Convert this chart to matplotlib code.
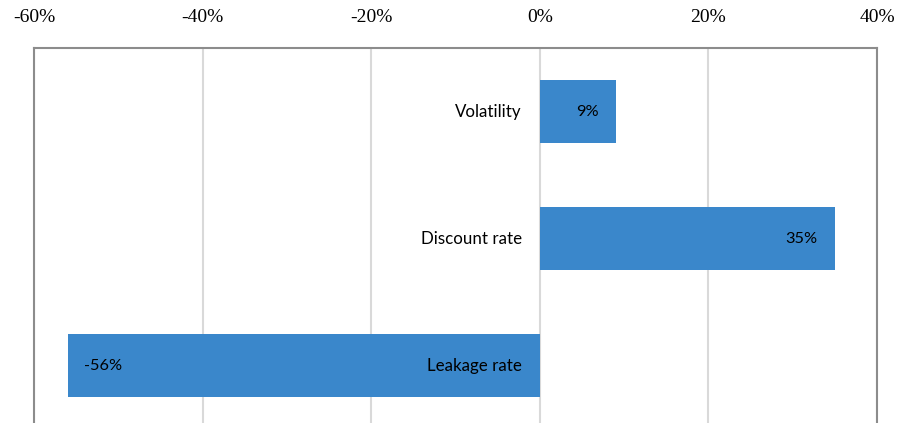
import matplotlib.pyplot as plt

categories = ['Volatility', 'Discount rate', 'Leakage rate']
values = [0.09, 0.35, -0.56]
bar_labels = ['9%', '35%', '-56%']
xticks = [-0.6, -0.4, -0.2, 0.0, 0.2, 0.4]
xtick_labels = ['-60%', '-40%', '-20%', '0%', '20%', '40%']

bar_color = '#3A87CB'

plt.rcParams['font.family'] = ['Lato', 'DejaVu Sans']

fig = plt.figure(figsize=(8.97, 4.23), dpi=100)
ax = fig.add_axes([34/897, -6/423, 843/897, 381/423])

ypos = list(range(len(categories)))
ax.barh(ypos, values, height=0.5, color=bar_color, zorder=2)
ax.set_ylim(len(categories) - 0.5, -0.5)
ax.set_xlim(-0.6, 0.4)
ax.xaxis.tick_top()
ax.set_xticks(xticks)
ax.set_xticklabels(xtick_labels, family=['Liberation Serif', 'DejaVu Serif'],
                   fontsize=14)
ax.tick_params(axis='x', length=0, pad=16)
ax.set_yticks([])
ax.grid(axis='x', color='#D9D9D9', linewidth=1.5, zorder=0)
for s in ax.spines.values():
    s.set_color('#8C8C8C')
    s.set_linewidth(1.5)

# category names sit just left of the zero line
for y, name in zip(ypos, categories):
    ax.annotate(name, xy=(0, y), xytext=(-18, 0), textcoords='offset pixels',
                ha='right', va='center', fontsize=12.2, zorder=3)

# value labels inside the bar end
for y, v, t in zip(ypos, values, bar_labels):
    if v >= 0:
        ax.annotate(t, xy=(v, y), xytext=(-17, 0), textcoords='offset pixels',
                    ha='right', va='center', fontsize=11.8, zorder=3)
    else:
        ax.annotate(t, xy=(v, y), xytext=(16, 0), textcoords='offset pixels',
                    ha='left', va='center', fontsize=11.8, zorder=3)

fig.savefig('out.png', dpi=100)
